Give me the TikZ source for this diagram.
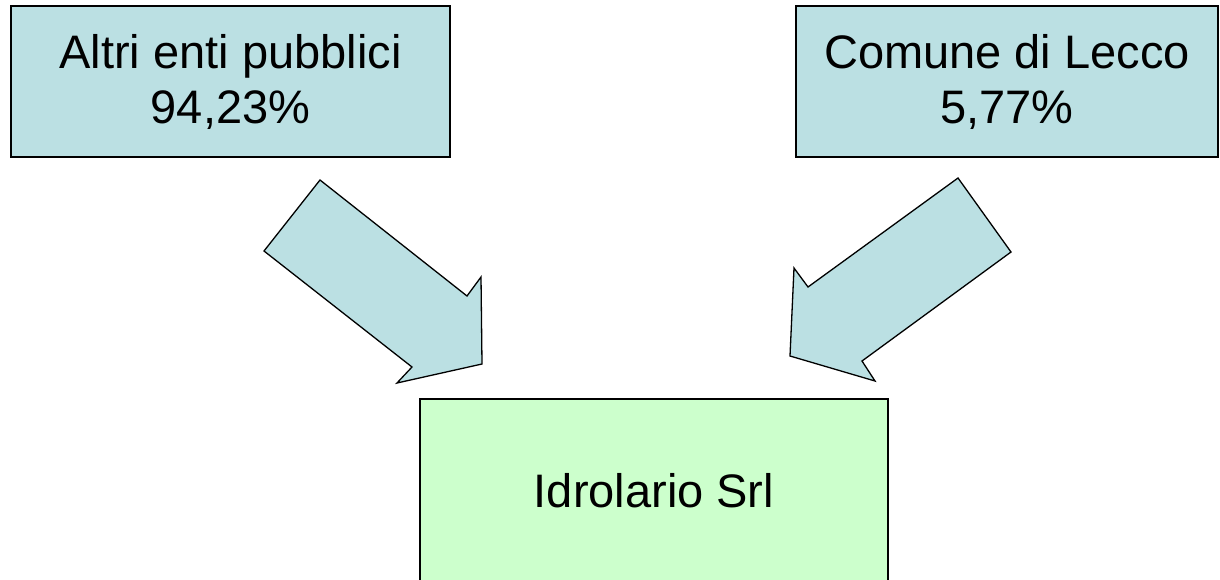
\documentclass[tikz,border=0pt]{standalone}
\usepackage{fontspec}
\setmainfont{Liberation Sans}
\definecolor{entiblue}{RGB}{187,224,227}
\definecolor{srlgreen}{RGB}{204,255,204}

\begin{document}
\begin{tikzpicture}[x=1pt, y=-1pt,
    socio/.style={draw, line width=1.3pt, fill=entiblue, align=center, inner sep=0pt,
        font=\fontsize{47}{55}\selectfont},
    freccia/.style={draw, line width=1.3pt, fill=entiblue, line join=miter}]
    \useasboundingbox (0,0) rectangle (1220,579);

    % soci
    \node[socio, minimum width=439pt, minimum height=151pt] (altri) at (230.5,81.5)
        {Altri enti pubblici\\94,23\%};
    \node[socio, minimum width=422pt, minimum height=151pt] (lecco) at (1007,81.5)
        {Comune di Lecco\\5,77\%};

    % societa partecipata
    \node[socio, fill=srlgreen, minimum width=468pt, minimum height=184pt] (idro) at (654,491)
        {Idrolario Srl};

    % frecce a blocco verso Idrolario
    \draw[freccia] (320,180) -- (264,251) -- (412,367) -- (397,383) -- (482,364)
        -- (481,277) -- (467,296) -- cycle;
    \draw[freccia] (958,178) -- (1011,252) -- (862,361) -- (875,381) -- (790,356)
        -- (794,268) -- (808,287) -- cycle;
\end{tikzpicture}
\end{document}
